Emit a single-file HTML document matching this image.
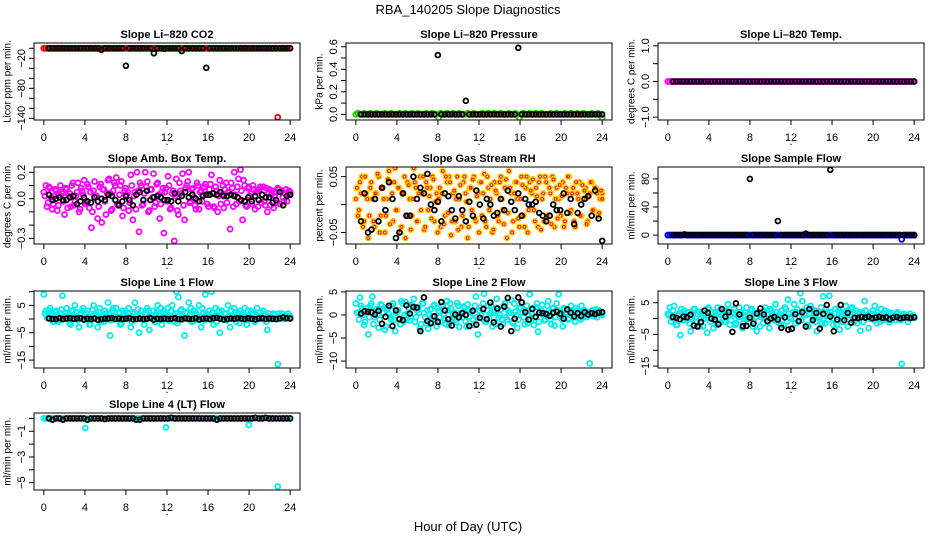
<!DOCTYPE html>
<html><head><meta charset="utf-8"><style>
html,body{margin:0;padding:0;background:#fff;}
svg{display:block;font-family:"Liberation Sans",sans-serif;}
</style></head><body>
<svg id="chart" width="936" height="540" viewBox="0 0 936 540" xmlns="http://www.w3.org/2000/svg">
<rect width="936" height="540" fill="#fff"/>
<text x="468" y="14" text-anchor="middle" font-size="13">RBA_140205  Slope Diagnostics</text>
<text x="468" y="531" text-anchor="middle" font-size="13">Hour of Day (UTC)</text>
</svg>
<script>
// ---- data ----
const xTicks = [0,4,8,12,16,20,24];
const co2Color = [0,0,0,0,0,0,0,0,0,0,0,0,0,0,0,0,0,0,0,0,
0,0,0,0,0,0,0,0,0,0,0,0,0,0,0,0,0,0,0,0,
0,0,0,0,0,0,0,0,0,0,0,0,0,0,0,0,0,0,0,0,
0,0,0,0,0,0,0,0,0,0,0,0,0,0,0,0,0,0,0,0,
0,0,0,0,0,0,0,0,0,0,0,0,0,0,0,0,0,0,0,0,
0,0,0,0,0,0,0,0,0,0,0,0,0,-138,0,0,0,0,0,0];
const co2Black = [0,0,0,0,0,0,0,0,0,0,0,0,0,0,0,-3,0,0,0,0,0,0,-35,0,0,0,0,0,0,0,-10,0,0,-1,0,0,0,0,-5.5,0,0,0,0,0,0,-39,0,0,0,0,0,0,0,0,0,0,0,0,0,0,0,0,0,0,0,0,0,0,0,0];
const pressColor = [0,0.01,0,0,0.01,0,0,0.01,0,0,0.01,0,0,0,0.01,0,0,0.01,0,0,
0,0.01,0,0,0.01,0,0,0.01,0,0,0.01,0,0,0,0.01,0,0,0.01,0,0,
-0.03,0.01,0,0,0.01,0,0,0.01,0,0,0.01,0,0,0,0.01,0,0,0.01,0,0,
0,0.01,0,0,0.01,0,0,0.01,0,0,0.01,0,0,0,0.01,0,0,0.01,0,-0.03,
0,0.01,0,0,0.01,0,0,0.01,0,0,0.01,0,0,0,0.01,0,0,0.01,0,0,
0,0.01,0,0,0.01,0,0,0.01,0,0,0.01,0,0,0,0.01,0,0,0.01,0,-0.03];
const pressBlack = [0,0,0,0,0,0,0,0,0,0,0,0,0,0,0,0,0,0,0,0,0,0,0.526,0,0,0,0,0,0,0,0.12,0,0,0,0,0,0,0,0,0,0,0,0,0,0,0.59,0,0,0,0,0,0,0,0,0,0,0,0,0,0,0,0,0,0,0,0,0,0,0,0];
const tempColor = [0,0,0,0,0,0,0,0,0,0,0,0,0,0,0,0,0,0,0,0,
0,0,0,0,0,0,0,0,0,0,0,0,0,0,0,0,0,0,0,0,
0,0,0,0,0,0,0,0,0,0,0,0,0,0,0,0,0,0,0,0,
0,0,0,0,0,0,0,0,0,0,0,0,0,0,0,0,0,0,0,0,
0,0,0,0,0,0,0,0,0,0,0,0,0,0,0,0,0,0,0,0,
0,0,0,0,0,0,0,0,0,0,0,0,0,0,0,0,0,0,0,0];
const tempBlack = [0,0,0,0,0,0,0,0,0,0,0,0,0,0,0,0,0,0,0,0,0,0,0,0,0,0,0,0,0,0,0,0,0,0,0,0,0,0,0,0,0,0,0,0,0,0,0,0,0,0,0,0,0,0,0,0,0,0,0,0,0,0,0,0,0,0,0,0,0,0];
const ambColor = [0.05,0.1,-0.03,0.08,-0.08,0.02,0.06,-0.05,0.1,0.04,-0.12,0.07,0.02,-0.06,0.12,-0.02,0.05,-0.1,0.08,0.03,
-0.04,0.11,-0.07,-0.22,0.06,0.02,-0.15,0.09,-0.18,0.07,-0.12,0.14,0.04,-0.08,0.12,0.16,-0.05,0.1,-0.13,0.06,
0.03,-0.09,0.18,-0.16,0.05,0.2,-0.25,0.1,-0.04,0.2,0.13,-0.09,0.07,0.19,-0.03,0.12,-0.15,0.05,-0.26,0.08,
0.17,-0.08,0.04,-0.32,0.15,-0.12,0.06,0.19,-0.16,0.1,0.2,-0.02,0.08,-0.05,0.12,-0.08,0.06,0.03,0.11,-0.04,
0.07,0.18,-0.06,0.09,-0.1,0.14,0.03,-0.07,0.12,0.05,-0.23,0.08,0.2,-0.04,0.15,0.22,-0.16,0.1,-0.06,0.09,
0.04,0.1,-0.08,0.06,0.07,-0.03,0.09,-0.05,-0.1,0.07,0.03,-0.07,0.05,0.08,-0.04,0.06,-0.02,0.07,0.03,0.05];
const ambColor2 = [0.02,-0.06,0.09,0.01,-0.04,0.07,-0.09,0.03,0.05,-0.02,0.08,-0.07,0.04,0.1,-0.05,0.02,0.12,-0.08,0.06,0.14,
-0.03,0.09,0.05,-0.1,0.13,0.02,-0.06,0.11,0.07,-0.02,0.04,0.15,-0.09,0.06,0.1,-0.04,0.03,0.13,-0.07,0.08,
0.05,-0.03,0.1,0.02,-0.08,0.06,0.12,-0.05,0.04,0.09,-0.1,0.07,0.01,-0.06,0.11,0.03,-0.04,0.08,0.05,-0.02,
0.1,-0.07,0.06,0.02,-0.09,0.12,0.04,-0.05,0.08,0.13,-0.03,0.07,0.01,-0.08,0.1,0.05,-0.02,0.09,0.03,-0.06,
0.11,0.04,-0.07,0.06,0.02,-0.04,0.1,0.07,-0.03,0.05,0.12,-0.06,0.03,0.09,-0.02,0.06,0.14,-0.05,0.08,0.02,
-0.04,0.07,0.05,-0.06,0.09,0.03,-0.02,0.08,0.04,-0.05,0.06,0.02,-0.03,0.07,0.05,0.01,0.04,-0.02,0.06,0.03];
const ambBlack = [0.03,-0.01,0,0.01,-0.01,-0.01,0.01,0.02,-0.04,-0.02,0.01,-0.02,-0.03,0.01,-0.02,0,-0.01,0.03,0.02,-0.01,-0.05,-0.02,0.02,-0.01,-0.05,0.03,0.05,-0.01,0.06,-0.01,0.01,0.02,0.01,-0.01,-0.01,-0.02,0.04,-0.02,0.02,0.05,0.01,0.03,0,-0.02,0.02,0.03,0.03,0.04,0.03,0.05,0.02,0.02,0.03,0.02,0.01,-0.01,-0.02,0.01,-0.02,0.02,-0.01,0.03,0.01,0.01,-0.03,-0.01,0.05,-0.05,0.02,0.03];
const rhColor = [0.01,-0.02,0.04,0.05,-0.03,0.02,-0.06,0.03,0.01,-0.04,0.02,0.05,-0.02,0.03,-0.05,0.01,0.06,0.04,-0.03,0.065,
-0.01,0.03,-0.04,0.02,-0.06,0.04,0.01,-0.02,0.065,0.03,-0.03,0.05,0.02,-0.045,0.04,-0.01,0.03,0.05,-0.03,0.02,
0.01,-0.04,0.06,-0.02,0.04,0.05,-0.055,0.02,-0.03,0.05,0.01,-0.04,0.04,0.02,-0.06,0.03,-0.01,0.05,-0.03,0.02,
0.04,-0.02,0.055,-0.04,0.03,0.01,-0.05,0.04,0.02,-0.03,0.05,-0.01,0.03,-0.06,0.06,0.02,-0.03,0.04,0.01,-0.04,
0.05,-0.02,0.03,-0.05,0.04,0.02,-0.01,0.03,-0.04,0.05,0.01,-0.03,0.04,-0.02,0.02,0.05,-0.04,0.03,0.01,-0.02,
0.04,-0.03,0.02,0.05,-0.01,0.03,-0.04,0.02,0.04,-0.02,0.01,0.03,-0.03,0.02,0.04,-0.01,0.03,-0.02,0.01,0.02];
const rhColor2 = [0.03,-0.01,0.02,-0.04,0.05,0.01,-0.02,0.04,-0.03,0.02,0.055,-0.05,0.03,0.01,-0.02,0.045,-0.035,0.02,0.04,-0.01,
0.03,-0.05,0.02,0.05,-0.02,0.035,-0.045,0.01,0.04,-0.03,0.02,-0.01,0.05,-0.04,0.03,0.015,-0.025,0.045,0.005,-0.05,
0.03,0.02,-0.035,0.05,-0.015,0.04,-0.03,0.025,0.01,-0.045,0.035,-0.02,0.05,0.005,-0.04,0.03,0.045,-0.025,0.015,-0.05,
0.04,0.02,-0.03,0.05,-0.01,0.035,-0.045,0.025,-0.02,0.04,0.01,-0.035,0.045,-0.015,0.03,-0.05,0.02,0.04,-0.025,0.01,
0.035,-0.04,0.05,-0.01,0.025,0.045,-0.03,0.015,0.04,-0.045,0.02,0.05,-0.02,0.03,-0.035,0.045,0.01,-0.025,0.035,0.015,
-0.04,0.03,0.05,-0.015,0.02,-0.03,0.04,0.01,-0.02,0.035,0.025,-0.035,0.015,0.04,-0.01,0.03,0.02,-0.015,0.025,0.01];
const rhBlack = [-0.03,0.02,-0.05,-0.045,0.01,-0.03,0.03,-0.01,0.04,0.01,-0.06,-0.05,0.02,-0.02,-0.02,0.05,0.01,0.03,0.02,0.055,
0,-0.01,0.005,-0.03,0.02,0.015,-0.01,-0.025,0.015,-0.01,-0.03,0.005,-0.02,0.025,0,-0.025,0.01,0,-0.02,-0.015,
0.01,-0.01,0.025,0.005,-0.01,0.02,-0.02,0.01,0,0,0.005,-0.015,-0.02,-0.03,-0.02,0,-0.01,-0.01,0.02,-0.015,
0.01,-0.035,-0.015,0,0.01,0.015,-0.02,0.025,-0.025,-0.065];
const flowColor = [0,0,0,0,0,0,0,0,1,0,0,0,0,0,0,0,0,0,0,0,
0,0,0,0,0,0,0,0,0,0,0,0,0,0,0,0,0,0,0,0,
0,0,0,0,0,0,0,0,0,0,0,0,0,0,0,0,0,0,0,0,
0,0,0,0,0,0,0,0,0,0,0,0,0,0,0,0,0,0,0,0,
0,0,0,0,0,0,0,0,0,0,0,0,0,0,0,0,0,0,0,0,
0,0,0,0,0,0,0,0,0,0,0,0,0,-6,0,0,0,0,0,0];
const flowBlack = [0,0,0,0,0,0,0,0,0,0,0,0,0,0,0,0,0,0,0,0,0,0,80,0,0,0,0,0,0,0,20,0,0,0,0,0,0,0,2,0,0,0,0,0,0,93,0,0,0,0,0,0,0,0,0,0,0,0,0,0,0,0,0,0,0,0,0,0,0,0];
const line1Color = [9,3,1,4,2,0,3,-1,2,8.5,1,4,2,-2,3,5,1,-3,2,4,
0,3,-2,1,5,2,-3,4,1,-1,2,6,-6,3,1,4,0,-2,3,2,
1,4,-3,2,6,1,-5,3,0,2,4,-4,1,3,-1,5,2,-2,3,1,
4,0,5,-1,10,8,3,1,-6,2,6,4,-1,3,0,5,-3,2,9,1,
3,10,-2,4,1,-5,3,0,2,5,-3,1,4,-1,2,3,0,4,-2,1,
3,2,-1,4,1,0,3,2,-4,1,0,2,0,-16.5,1,2,0,1,2,1];
const line1Color2 = [2,0.5,3,1,-1,2.5,1.5,-0.5,3.5,0,2,1,-1.5,3,0.5,2.5,-0.5,1.5,3,0,
2,1,-2,3.5,0.5,1.5,2.5,-1,1,3,0,2,-0.5,4,1,0.5,2.5,-1.5,1.5,3,
0.5,2,-1,2.5,1,3.5,0,1.5,-2,2,3,0.5,1,-1,2.5,1.5,4,0,2,1,
-0.5,3,1.5,2,-1.5,1,3.5,0.5,2.5,0,1.5,-1,3,2,0.5,1,4,-0.5,2,1.5,
0,2.5,1,-1,3,1.5,0.5,2,-0.5,1,3,0,2.5,1.5,-1.5,2,1,0.5,3,0,
1.5,2,-0.5,1,2.5,0.5,1.5,-1,2,1,0.5,1.5,0,2,1,0.5,1.5,1,0.5,1];
const line1Black = [0.2,0,0,0.3,0,0.2,0.3,0.1,0.2,0.3,-0.2,0.1,0,0.2,-0.3,0,0.1,0.2,0.3,0,0.2,0,0.1,0.3,-0.1,0,0.2,0,0.1,0.3,-0.2,0.1,0,0.2,0,0.1,0.3,0,-0.1,0.2,0.1,0,0.3,-0.2,0.1,0.2,0,0.3,0.4,0.1,-0.2,0,0.2,0.1,0.3,0.2,0,0.3,0.1,-0.1,0.2,0.3,0,0.2,0.1,0,0.2,0.6,0.3,0.2];
const line2Color = [2.5,0.5,3.8,1.5,-2.2,0.8,-4.2,2.0,4.0,-0.5,1.2,-2.8,2.3,0.5,-3.2,1.6,0.2,-1.0,2.5,-3.5,
1.0,-0.8,3.0,-1.5,2.8,0.3,-1.2,2.2,3.5,-0.5,1.5,-3.0,2.5,0.4,-1.8,-3.0,1.2,-0.3,2.2,-2.5,
0.8,-1.5,2.0,-0.7,3.0,-2.2,1.3,0.2,-1.0,2.6,-2.6,0.5,1.8,-1.3,2.3,-0.4,0.9,-2.2,4.0,-4.2,
1.6,-0.8,4.6,-1.5,2.0,0.3,-2.5,1.0,3.5,-0.6,1.2,-2.0,2.5,-1.0,0.5,3.2,-1.8,0.7,-2.8,1.5,
2.8,-0.5,1.0,-1.8,4.5,0.3,-2.2,1.7,-3.6,0.6,2.2,-1.2,0.4,3.0,-0.9,1.4,-2.3,2.5,4.5,-0.3,
-2.5,1.3,0.2,-0.8,2.0,0.5,-1.5,1.0,-0.6,2.0,-0.5,0.8,0,-10.5,1.0,-0.3,1.2,0.5,0.2,0.6];
const line2Color2 = [0.5,-1,2,0,-1.5,1.5,-0.5,2.5,-2,1,0,-1,2,0.5,-2.5,1.5,-0.5,2,-1,0.5,
1,-2,2.5,0,-1,1.5,-0.5,2,-1.5,1,0.5,-2,2.5,-0.5,1,0,-1.5,2,-1,1.5,
-0.5,2,0,-2,1,2.5,-1,0.5,-1.5,2,0,-0.5,1.5,-2.5,1,0.5,-1,2,-0.5,1,
0,2.5,-1.5,1,-0.5,2,0.5,-2,1.5,0,-1,2,-0.5,1,0.5,-1.5,2.5,0,-1,1.5,
0.5,-2,2,0,-1,1.5,-0.5,2.5,-1.5,1,0,-1,2,0.5,-2,1.5,-0.5,1,0,-1,
1.5,0.5,-1,1,0,-0.5,1.5,0.5,-1,0.5,1,-0.5,0.5,0,1,0.5,-0.5,1,0.5,0];
const line2Black = [0.3,0.8,0.7,0.6,0.1,0.9,-1.9,-0.4,2.0,-2.4,1.0,-0.9,-1.1,2.1,0.3,1.7,1.6,-3.5,3.8,-1.3,
-1.8,-0.3,-1.5,2.8,1.0,-0.9,-2.3,0.1,-0.5,0.4,0.0,-2.4,0.9,-2.1,-0.6,1.3,-0.9,2.7,-1.6,1.4,
-2.5,1.8,3.7,-3.5,-0.8,3.8,2.7,0.6,-1.0,1.3,-0.4,0.5,0.4,0.2,-0.2,0.5,0.7,0.3,-0.8,1.2,
0.5,-0.3,0.4,-0.2,0.6,0.1,0.4,0.2,0.5,0.6];
const line3Color = [1.5,3.5,0.2,4.0,-2.0,1.0,-5.2,1.8,2.5,-0.5,2.0,-4.0,1.0,3.0,-1.0,2.2,0,-2.5,1.5,-4.5,
3.0,0.5,-3.0,2.0,3.5,-1.5,1.0,2.5,-0.8,4.5,-2.0,1.5,3.0,-1.5,0.5,2.0,-3.0,1.0,3.5,0.0,
2.5,-2.5,1.5,-4.0,2.0,0.5,-1.5,3.5,1.2,-3.0,2.5,0.0,4.5,-1.0,1.5,2.5,-2.0,3.0,6.0,0.5,
-3.2,4.5,2.0,-1.0,8.0,5.5,1.5,3.5,-2.5,4.0,0.5,2.5,-4.0,1.0,3.5,7.0,-1.5,2.0,7.2,1.0,
-2.0,3.0,0.5,-3.5,2.0,1.2,4.0,-2.5,1.0,3.5,-1.0,2.5,0.0,-3.8,2.0,5.5,0.5,-3.0,1.5,2.5,
4.0,-1.5,1.0,3.0,-0.5,2.5,0.5,-1.2,1.8,0.5,-0.5,2.0,0.0,-14.3,1.5,0.5,-1.0,1.5,0.5,0.2];
const line3Color2 = [1,-1,2.5,0,-2,1.5,3,-0.5,1,2,-1.5,0.5,3,-1,1.5,-2.5,2,0,1,3.5,
-1,2,0.5,-2,1.5,3,0,-1,2.5,1,-0.5,2,-2,1,3.5,0.5,-1.5,2,0,1.5,
3,-1,0.5,2,-2.5,1,2.5,0,-1,3,1.5,-0.5,2,0.5,-2,1,3.5,-1,1.5,0,
2,-1.5,3,0.5,-0.5,2.5,1,-2,1.5,3,0,-1,2,0.5,-1.5,1,3,-0.5,2,0,
1.5,-2,2.5,0.5,-1,2,1,-0.5,3,0,1.5,-1.5,2,0.5,-1,2.5,1,0,1.5,-0.5,
1,2,-1,0.5,1.5,0,2,-0.5,1,0.5,1.5,0,-0.5,1,0.5,1,0,0.5,1,0.5];
const line3Black = [0.5,0.2,-0.2,0.6,0.4,1.2,-2.2,-2.5,-1.1,2.5,1.8,0,-0.3,-1.8,3.0,0.6,2.0,-4.2,4.8,1.3,
-2.4,-2.3,0.3,-1.6,1.6,3.2,1.3,-0.8,0,0.5,-0.3,-2.9,0.4,-3.5,-3.2,1.4,-0.8,2.0,-2.5,3.0,
-0.5,1.8,-3.2,1.5,4.3,0.6,-4.0,-0.3,4.3,-0.5,1.8,-1.3,0.3,0.2,0.5,0.3,0.6,0.1,0.3,0.5,
0.2,0.4,-0.2,0.3,0.5,0.1,0.3,0.4,0.2,0.4];
const line4Color = [0,0,0,0,0,0,0,0,0,0,0,0,0,0,0,0,0,0,0,0,
-0.75,0,0,0,0,0,0,0,0,0,0,0,0,0,0,0,0,0,0,0,
0,0,0,0,0,0,0,0,0,0,0,0,0,0,0,0,0,0,0,-0.7,
0,0,0,0,0,0,0,0,0,0,0,0,0,0,0,0,0,0,0,0,
0,0,0,0,0,0,0,0,0,0,0,0,0,0,0,0,0,0,0,-0.5,
0,0,0,0,0,0,0,0,0,0,0,0,0,-5.3,0,0,0,0,0,0];
const line4Black = [0,-0.1,0,0,-0.1,0,0,0,0,0,0,-0.1,0,0,0,0,-0.05,0,0,0,0,0,0,0,0,-0.1,-0.1,0,0,0,0,0,0,0,0,0.05,0,0,0,0,0,0,0,0,0,0,0,0,-0.1,0,0,0,0,0,0,0,0,0,0,0.05,0,0,0.05,0,0,0,0,0,0,0];

const panels = [
 {name:'co2',title:'Slope Li\u2013820 CO2',ylab:'Licor ppm per min.',row:0,col:0,ylim:[-143.4,10.6],ticks:[0,-20,-40,-60,-80,-100,-120,-140],labels:[-20,-80,-140],color:'#ff0000',cdata:co2Color,bdata:co2Black},
 {name:'pressure',title:'Slope Li\u2013820 Pressure',ylab:'kPa per min.',row:0,col:1,ylim:[-0.05,0.633],ticks:[0,0.1,0.2,0.3,0.4,0.5,0.6],labels:['0.0','0.2','0.4','0.6'],color:'#22cc00',cdata:pressColor,bdata:pressBlack},
 {name:'temp',title:'Slope Li\u2013820 Temp.',ylab:'degrees C per min.',row:0,col:2,ylim:[-1.08,1.08],ticks:[-1,-0.5,0,0.5,1],labels:['-1.0','0.0','1.0'],color:'#ff00ff',cdata:tempColor,bdata:tempBlack},
 {name:'amb-box-temp',title:'Slope Amb. Box Temp.',ylab:'degrees C per min.',row:1,col:0,ylim:[-0.343,0.24],ticks:[-0.3,-0.2,-0.1,0,0.1,0.2],labels:['-0.3','0.0','0.2'],color:'#ff00ff',cdata:ambColor,cdata2:ambColor2,bdata:ambBlack},
 {name:'gas-stream-rh',title:'Slope Gas Stream RH',ylab:'percent per min.',row:1,col:1,ylim:[-0.0707,0.0673],ticks:[-0.05,0,0.05],labels:['-0.05','0.05'],color:'#ffcc00',cdata:rhColor,cdata2:rhColor2,bdata:rhBlack,rh:true},
 {name:'sample-flow',title:'Slope Sample Flow',ylab:'ml/min per min.',row:1,col:2,ylim:[-12.7,97],ticks:[0,20,40,60,80],labels:[0,40,80],color:'#0000ff',cdata:flowColor,bdata:flowBlack},
 {name:'line1-flow',title:'Slope Line 1 Flow',ylab:'ml/min per min.',row:2,col:0,ylim:[-17.9,10.25],ticks:[-15,-10,-5,0,5,10],labels:[-15,-5,5],color:'#00eeee',cdata:line1Color,cdata2:line1Color2,bdata:line1Black},
 {name:'line2-flow',title:'Slope Line 2 Flow',ylab:'ml/min per min.',row:2,col:1,ylim:[-11.5,5.2],ticks:[-10,-5,0,5],labels:[-10,-5,0,5],color:'#00eeee',cdata:line2Color,cdata2:line2Color2,bdata:line2Black},
 {name:'line3-flow',title:'Slope Line 3 Flow',ylab:'ml/min per min.',row:2,col:2,ylim:[-15.6,8.7],ticks:[-15,-10,-5,0,5],labels:[-15,-5,5],color:'#00eeee',cdata:line3Color,cdata2:line3Color2,bdata:line3Black},
 {name:'line4-flow',title:'Slope Line 4 (LT) Flow',ylab:'ml/min per min.',row:3,col:0,ylim:[-5.57,0.42],ticks:[0,-1,-2,-3,-4,-5],labels:[-1,-3,-5],color:'#00eeee',cdata:line4Color,bdata:line4Black}
];

const NS='http://www.w3.org/2000/svg';
const svg=document.getElementById('chart');
const rowTops=[43,167,291,413], BOXH=77, BOXW=266, XLIM=[-0.96,24.96];
function mk(tag,attrs,parent){const e=document.createElementNS(NS,tag);for(const k in attrs)e.setAttribute(k,attrs[k]);(parent||svg).appendChild(e);return e;}

panels.forEach(p=>{
  const L=34+312*p.col, T=rowTops[p.row], B=T+BOXH, R=L+BOXW;
  const xs=v=>L+(v-XLIM[0])/(XLIM[1]-XLIM[0])*BOXW;
  const ys=v=>B-(v-p.ylim[0])/(p.ylim[1]-p.ylim[0])*BOXH;
  const g=mk('g',{});
  
  
  const clip=mk('clipPath',{id:'clip-'+p.name},g);
  mk('rect',{x:L,y:T,width:BOXW,height:BOXH},clip);
  const pts=mk('g',{'clip-path':'url(#clip-'+p.name+')'},g);
  
  
  function drawColor(arr,offset){
    const n=arr.length, step=24/(n-1);
    arr.forEach((v,i)=>{
      const t=Math.min(24,i*step+offset*step);
      const c=mk('circle',{cx:xs(t),cy:ys(v),r:2.5,fill:'none',stroke:p.color,'stroke-width':1.8},pts);
      
      
      if(p.rh){
        const c2=mk('circle',{cx:xs(t),cy:ys(v),r:1.4,fill:'none',stroke:'#ff2200','stroke-width':1.1},pts);
        
        
      }
    });
  }
  drawColor(p.cdata,0);
  if(p.cdata2) drawColor(p.cdata2,0.5);
  const nb=p.bdata.length;
  p.bdata.forEach((v,i)=>{
    const t=0.5+i*23.5/(nb-1);
    const c=mk('circle',{cx:xs(t),cy:ys(v),r:2.4,fill:'none',stroke:'#000','stroke-width':1.8},pts);
    
    
  });
  const box=mk('rect',{x:L,y:T,width:BOXW,height:BOXH,fill:'none',stroke:'#000','stroke-width':1},g);
  
  
  xTicks.forEach(t=>{
    mk('line',{x1:xs(t),x2:xs(t),y1:B,y2:B+5,stroke:'#000','stroke-width':1},g);
    const tx=mk('text',{x:xs(t),y:B+21,'text-anchor':'middle','font-size':11},g);
    tx.textContent=t;
    
    
  });
  mk('line',{x1:xs(0),x2:xs(24),y1:B,y2:B,stroke:'#000'},g);
  const dot=mk('text',{x:(L+R)/2,y:B+25,'text-anchor':'middle','font-size':11},g);
  dot.textContent='.';
  
  
  p.ticks.forEach(t=>{
    mk('line',{x1:L-5,x2:L,y1:ys(t),y2:ys(t),stroke:'#000','stroke-width':1},g);
  });
  p.labels.forEach(lb=>{
    const y=ys(parseFloat(lb));
    const tx=mk('text',{x:L-12,y:y,'text-anchor':'middle','font-size':11,'dominant-baseline':'central',transform:'rotate(-90 '+(L-12)+' '+y+')'},g);
    tx.textContent=String(lb).replace('-','\u2212');
    
    
  });
  const yt=mk('text',{x:L-26,y:(T+B)/2,'text-anchor':'middle','font-size':10,'dominant-baseline':'central',transform:'rotate(-90 '+(L-26)+' '+((T+B)/2)+')'},g);
  yt.textContent=p.ylab;
  
  
  const ti=mk('text',{x:(L+R)/2,y:T-5,'text-anchor':'middle','font-size':11,'font-weight':'bold'},g);
  ti.textContent=p.title;
  
  
});
</script>
</body></html>
